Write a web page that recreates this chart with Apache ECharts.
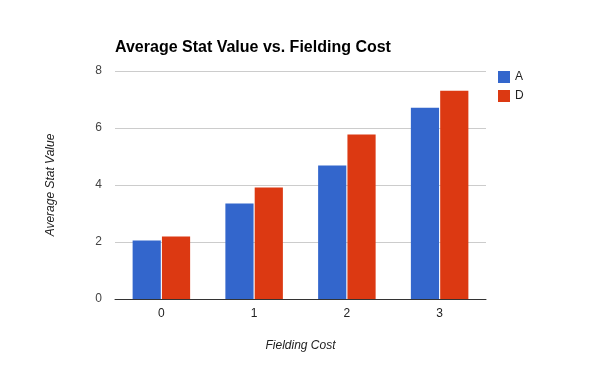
<!DOCTYPE html>
<html>
<head>
<meta charset="utf-8">
<script src="https://cdn.jsdelivr.net/npm/echarts@6/dist/echarts.min.js"></script>
<style>html,body{margin:0;padding:0;background:#fff}#c{width:600px;height:371px}</style>
</head>
<body>
<div id="c"></div>
<script>
var categories = ['0', '1', '2', '3'];
var seriesA = [2.05, 3.35, 4.68, 6.71];
var seriesD = [2.19, 3.91, 5.77, 7.31];
var yTicks = [0, 2, 4, 6, 8];

var chart = echarts.init(document.getElementById('c'), null, {renderer: 'canvas'});
var font = 'Liberation Sans, Arial, sans-serif';
chart.setOption({
  animation: false,
  textStyle: {fontFamily: font},
  title: {
    text: 'Average Stat Value vs. Fielding Cost',
    left: 110, top: 35,
    textStyle: {fontFamily: font, fontSize: 16, fontWeight: 'bold', color: '#000'}
  },
  legend: {
    orient: 'vertical', left: 493, top: 66,
    icon: 'rect', itemWidth: 12, itemHeight: 12, itemGap: 7,
    textStyle: {fontFamily: font, fontSize: 12, color: '#222'},
    data: ['A', 'D']
  },
  grid: {left: 115, right: 114, top: 71, bottom: 72, containLabel: false},
  xAxis: {
    type: 'category', data: categories,
    name: 'Fielding Cost', nameLocation: 'middle', nameGap: 41,
    nameTextStyle: {fontFamily: font, fontSize: 12, fontStyle: 'italic', color: '#222'},
    axisLine: {lineStyle: {color: '#333', width: 1}},
    axisTick: {show: false},
    axisLabel: {fontFamily: font, fontSize: 12, color: '#222', margin: 9}
  },
  yAxis: {
    type: 'value', min: yTicks[0], max: yTicks[yTicks.length - 1], interval: 2,
    name: 'Average Stat Value', nameLocation: 'middle', nameGap: 58, nameRotate: 90,
    nameTextStyle: {fontFamily: font, fontSize: 12, fontStyle: 'italic', color: '#222'},
    axisLine: {show: false}, axisTick: {show: false},
    axisLabel: {fontFamily: font, fontSize: 12, color: '#444', margin: 13},
    splitLine: {lineStyle: {color: '#ccc', width: 1}}
  },
  series: [
    {name: 'A', type: 'bar', data: seriesA, itemStyle: {color: '#3366cc'}, barGap: '4%', barCategoryGap: '38%'},
    {name: 'D', type: 'bar', data: seriesD, itemStyle: {color: '#dc3912'}}
  ]
});
</script>
</body>
</html>
